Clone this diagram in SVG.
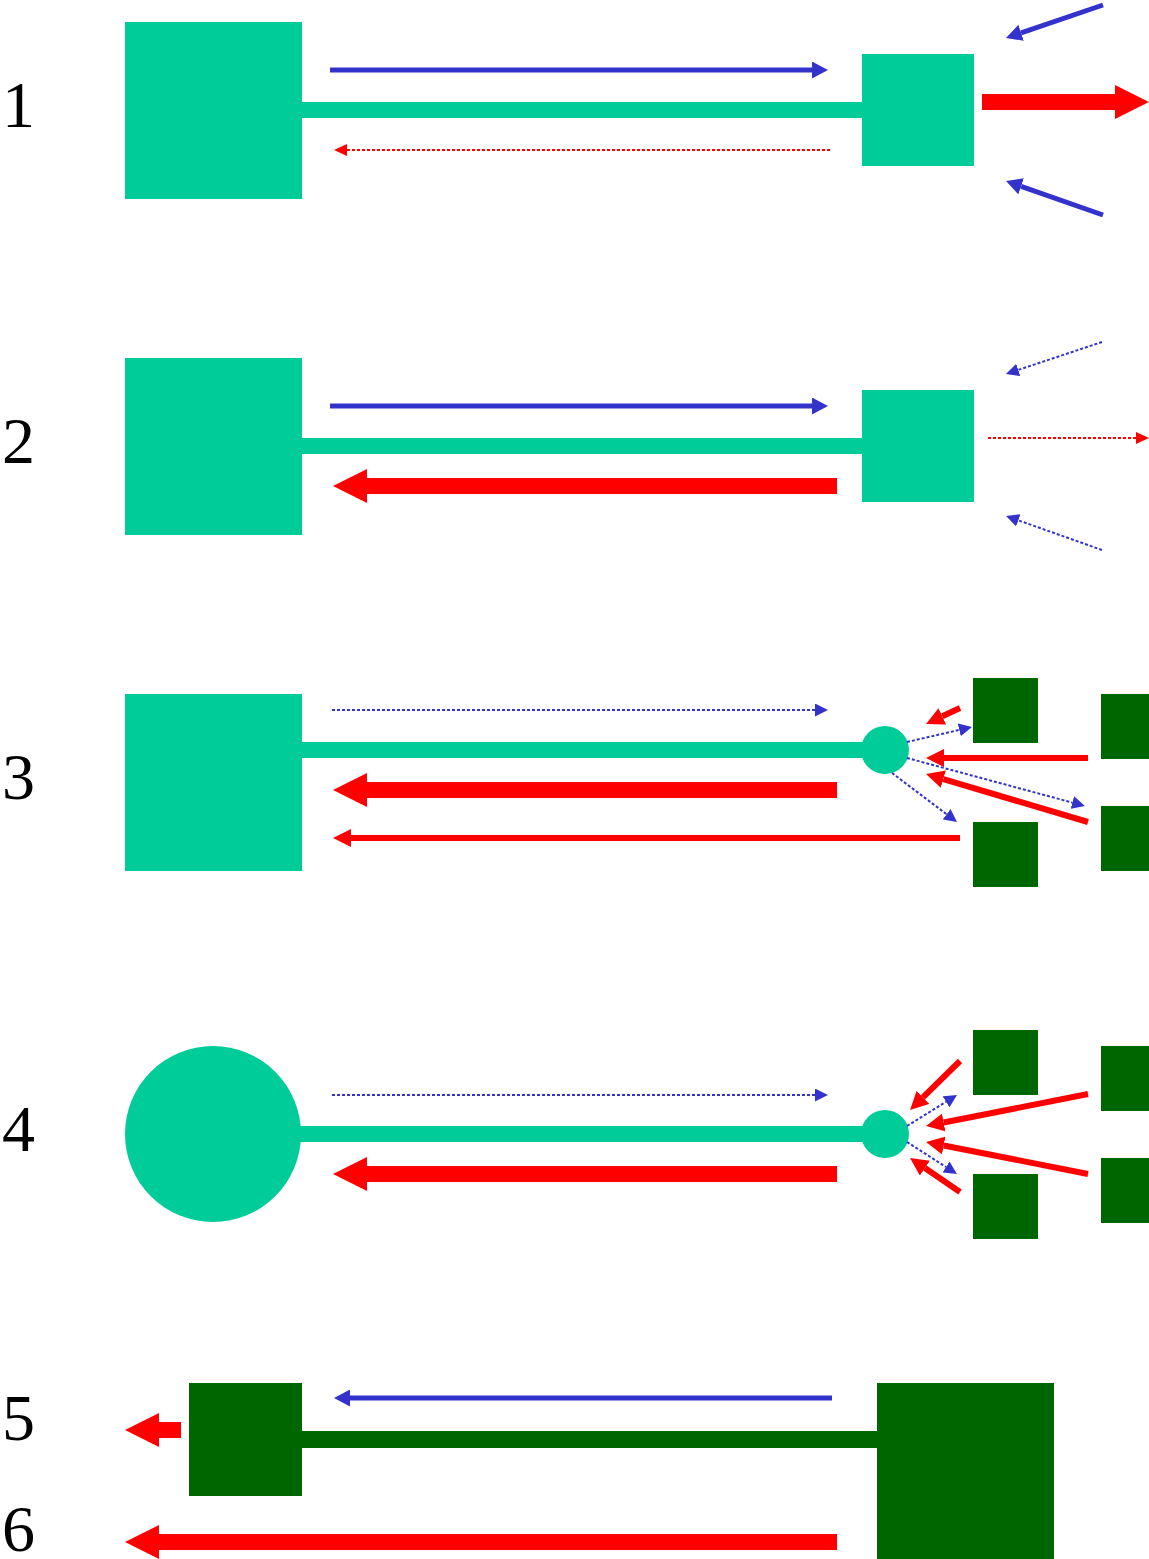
<svg xmlns="http://www.w3.org/2000/svg" width="1149" height="1559" viewBox="0 0 1149 1559">
<style>
.teal{fill:#00CC99}
.dark{fill:#006600}
.lbl{font-size:66px;fill:#000}
.rb{stroke:#FF0000;stroke-width:16;fill:none}
.rt{stroke:#FF0000;stroke-width:6;fill:none}
.rd{stroke:#FF0000;stroke-width:2;stroke-dasharray:3 2;fill:none}
.bs{stroke:#3333CC;stroke-width:5;fill:none}
.bd{stroke:#3333CC;stroke-width:2;stroke-dasharray:3 2;fill:none}
.rb{marker-end:url(#hRedBig)}
.rt{marker-end:url(#hRed)}
.rd{marker-end:url(#hRedDot)}
.bs{marker-end:url(#hBlue)}
.bd{marker-end:url(#hBlueDot)}
</style>
<defs>
<marker id="hRedBig" markerUnits="userSpaceOnUse" markerWidth="34" markerHeight="34" refX="0" refY="17" orient="auto"><path d="M0,0 L34,17 L0,34 Z" fill="#FF0000"/></marker>
<marker id="hRed" markerUnits="userSpaceOnUse" markerWidth="18" markerHeight="18" refX="0" refY="9" orient="auto"><path d="M0,0 L18,9 L0,18 Z" fill="#FF0000"/></marker>
<marker id="hRedDot" markerUnits="userSpaceOnUse" markerWidth="13" markerHeight="12" refX="0" refY="6" orient="auto"><path d="M0,0 L13,6 L0,12 Z" fill="#FF0000"/></marker>
<marker id="hBlue" markerUnits="userSpaceOnUse" markerWidth="16" markerHeight="17" refX="0" refY="8.5" orient="auto"><path d="M0,0 L16,8.5 L0,17 Z" fill="#3333CC"/></marker>
<marker id="hBlueDot" markerUnits="userSpaceOnUse" markerWidth="13" markerHeight="13" refX="0" refY="6.5" orient="auto"><path d="M0,0 L13,6.5 L0,13 Z" fill="#3333CC"/></marker>
</defs>
<rect width="1149" height="1559" fill="#FFFFFF"/>

<g id="labels" font-family="Liberation Serif, serif">
<text class="lbl" x="2" y="127">1</text>
<text class="lbl" x="2" y="463">2</text>
<text class="lbl" x="2" y="799">3</text>
<text class="lbl" x="2" y="1151">4</text>
<text class="lbl" x="2" y="1440">5</text>
<text class="lbl" x="2" y="1551">6</text>
</g>

<!-- Row 1 -->
<g id="r1-link"><rect class="teal" x="300" y="102" width="564" height="16"/></g>
<g id="r1-big"><rect class="teal" x="125" y="22" width="177" height="177"/></g>
<g id="r1-small"><rect class="teal" x="862" y="54" width="112" height="112"/></g>

<!-- Row 2 -->
<g id="r2-link"><rect class="teal" x="300" y="438" width="564" height="16"/></g>
<g id="r2-big"><rect class="teal" x="125" y="358" width="177" height="177"/></g>
<g id="r2-small"><rect class="teal" x="862" y="390" width="112" height="112"/></g>

<!-- Row 3 -->
<g id="r3-link"><rect class="teal" x="300" y="742" width="585" height="16"/></g>
<g id="r3-big"><rect class="teal" x="125" y="694" width="177" height="177"/></g>
<g id="r3-node"><circle class="teal" cx="885" cy="750" r="24"/></g>
<g id="r3-d1"><rect class="dark" x="973" y="678" width="65" height="65"/></g>
<g id="r3-d2"><rect class="dark" x="1101" y="694" width="48" height="65"/></g>
<g id="r3-d3"><rect class="dark" x="973" y="822" width="65" height="65"/></g>
<g id="r3-d4"><rect class="dark" x="1101" y="806" width="48" height="65"/></g>

<!-- Row 4 -->
<g id="r4-link"><rect class="teal" x="290" y="1126" width="595" height="16"/></g>
<g id="r4-big"><circle class="teal" cx="213" cy="1134" r="88"/></g>
<g id="r4-node"><circle class="teal" cx="885" cy="1134" r="24"/></g>
<g id="r4-d1"><rect class="dark" x="973" y="1030" width="65" height="65"/></g>
<g id="r4-d2"><rect class="dark" x="1101" y="1046" width="48" height="65"/></g>
<g id="r4-d3"><rect class="dark" x="973" y="1174" width="65" height="65"/></g>
<g id="r4-d4"><rect class="dark" x="1101" y="1158" width="48" height="65"/></g>

<!-- Row 5/6 -->
<g id="r5-link"><rect class="dark" x="300" y="1431" width="579" height="17"/></g>
<g id="r5-small"><rect class="dark" x="189" y="1383" width="113" height="113"/></g>
<g id="r5-big"><rect class="dark" x="877" y="1383" width="177" height="176"/></g>

<g id="connectors">
<!-- row 1 -->
<line class="bs" x1="330" y1="70" x2="812" y2="70"/>
<line class="rd" x1="830" y1="150" x2="347" y2="150"/>
<line class="rb" x1="982" y1="102" x2="1115" y2="102"/>
<line class="bs" x1="1103" y1="5" x2="1021.1" y2="32.8"/>
<line class="bs" x1="1103" y1="215" x2="1021.1" y2="186.3"/>
<!-- row 2 -->
<line class="bs" x1="330" y1="406" x2="812" y2="406"/>
<line class="rb" x1="837" y1="486" x2="367" y2="486"/>
<line class="rd" x1="988" y1="438" x2="1136" y2="438"/>
<line class="bd" x1="1102" y1="342" x2="1018.3" y2="369.9"/>
<line class="bd" x1="1102" y1="550" x2="1018.3" y2="520.3"/>
<!-- row 3 -->
<line class="bd" x1="332" y1="710" x2="815" y2="710"/>
<line class="rb" x1="837" y1="790" x2="367" y2="790"/>
<line class="rt" x1="960" y1="838" x2="351" y2="838"/>
<line class="rt" x1="960" y1="708" x2="942.3" y2="716.3"/>
<line class="rt" x1="1088" y1="758" x2="944" y2="758"/>
<line class="rt" x1="1088" y1="822" x2="943.3" y2="779.1"/>
<line class="bd" x1="907" y1="742" x2="959.3" y2="729.9"/>
<line class="bd" x1="907" y1="758" x2="1072.4" y2="802.6"/>
<line class="bd" x1="892" y1="773" x2="946.6" y2="814.2"/>
<!-- row 4 -->
<line class="bd" x1="332" y1="1095" x2="815" y2="1095"/>
<line class="rb" x1="837" y1="1174" x2="367" y2="1174"/>
<line class="rt" x1="960" y1="1061" x2="922.9" y2="1097.4"/>
<line class="rt" x1="1088" y1="1094" x2="943.7" y2="1122.5"/>
<line class="rt" x1="1088" y1="1174" x2="943.7" y2="1145.5"/>
<line class="rt" x1="960" y1="1192" x2="924.9" y2="1168.1"/>
<line class="bd" x1="907" y1="1126" x2="946" y2="1101.8"/>
<line class="bd" x1="907" y1="1142" x2="946" y2="1167"/>
<!-- row 5/6 -->
<line class="bs" x1="832" y1="1398" x2="350" y2="1398"/>
<line class="rb" x1="181" y1="1430" x2="159" y2="1430"/>
<line class="rb" x1="837" y1="1542" x2="159" y2="1542"/>
</g>
</svg>
